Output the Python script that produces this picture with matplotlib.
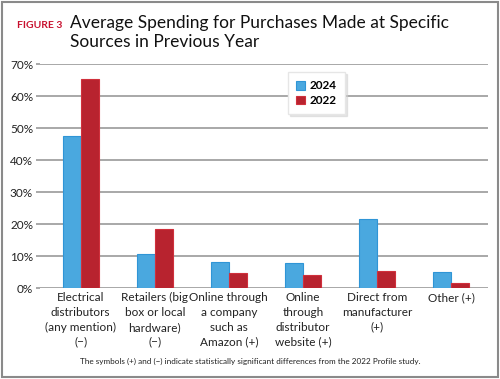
import matplotlib.pyplot as plt
import numpy as np
from matplotlib.patches import Rectangle

plt.rcParams['font.family'] = ['Lato', 'DejaVu Sans']

categories = ["Electrical\ndistributors\n(any mention)\n(\u2212)",
              "Retailers (big\nbox or local\nhardware)\n(\u2212)",
              "Online through\na company\nsuch as\nAmazon (+)",
              "Online\nthrough\ndistributor\nwebsite (+)",
              "Direct from\nmanufacturer\n(+)",
              "Other (+)"]
vals_2024 = [47.6, 10.5, 8.2, 7.9, 21.5, 4.9]
vals_2022 = [65.3, 18.6, 4.6, 4.1, 5.3, 1.6]
yticks = [0, 10, 20, 30, 40, 50, 60, 70]

blue = '#4aa8df'
red = '#b8232f'

fig = plt.figure(figsize=(5, 3.79), dpi=100)
ax = fig.add_axes([0.08, 0.240, 0.896, 0.591])

x = np.arange(len(categories))
w = 0.245
ax.bar(x - w/2, vals_2024, w, color=blue, edgecolor='#2f95d6', linewidth=0.8, label='2024', zorder=3)
ax.bar(x + w/2, vals_2022, w, color=red, edgecolor='#d0303c', linewidth=0.8, label='2022', zorder=3)

ax.set_ylim(0, 70)
ax.set_xlim(-0.55, 5.5)
ax.set_yticks(yticks)
ax.set_yticklabels([f'{t}%' for t in yticks], fontsize=8.5, color='#222222')
ax.set_xticks(x)
ax.set_xticklabels(categories, fontsize=8.5, color='#222222', linespacing=1.42)
ax.tick_params(axis='x', length=0, pad=3)
ax.tick_params(axis='y', length=3, width=1.2, color='#9a9a9a', pad=2)
ax.yaxis.grid(True, color='#9a9a9a', linewidth=1.2, zorder=0)
for s in ax.spines.values():
    s.set_visible(False)

leg = ax.legend(loc='upper left', bbox_to_anchor=(0.54, 0.99), fontsize=8.5, frameon=True,
                handlelength=0.75, handleheight=0.75, handletextpad=0.4, borderpad=0.7,
                labelspacing=0.3, fancybox=False,
                shadow={'ox': 1.5, 'oy': -1.5, 'color': '#cfcfcf'})
leg.get_frame().set_edgecolor('#e6e6e6')
for t in leg.get_texts():
    t.set_fontweight('bold')

fig.text(0.034, 0.926, 'FIGURE 3', fontsize=7.5, fontweight='bold', color='#c8102e', va='baseline')
fig.text(0.14, 0.926, 'Average Spending for Purchases Made at Specific',
         fontsize=12.5, color='#111111', va='baseline')
fig.text(0.14, 0.876, 'Sources in Previous Year',
         fontsize=12.5, color='#111111', va='baseline')

fig.text(0.5, 0.040, 'The symbols (+) and (\u2212) indicate statistically significant differences from the 2022 Profile study.',
         fontsize=5.9, ha='center', color='#222222')

fig.patches.append(Rectangle((0.004, 0.005), 0.991, 0.99, transform=fig.transFigure,
                             fill=False, edgecolor='#8a8a8a', linewidth=1.5))

fig.savefig('out.png', dpi=100)
